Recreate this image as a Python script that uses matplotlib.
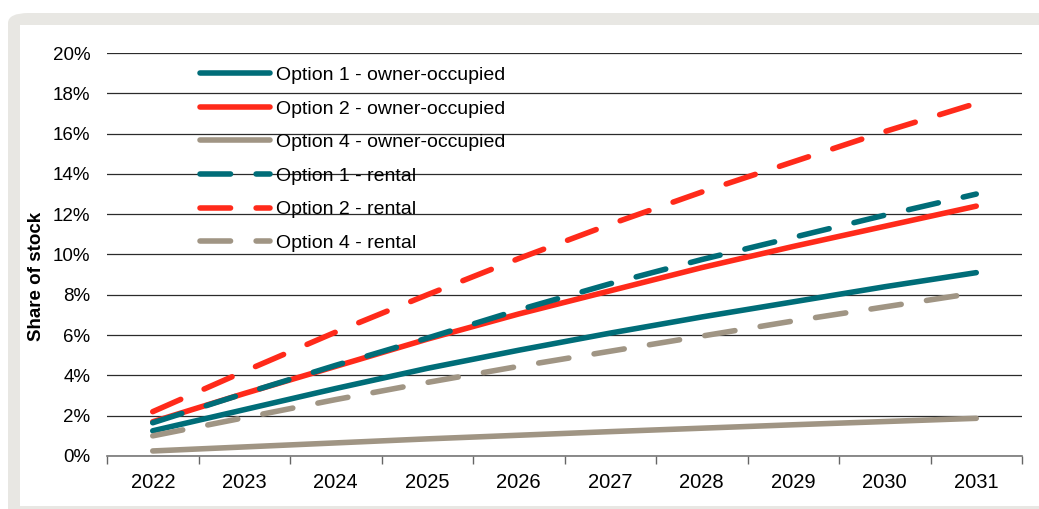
import matplotlib
matplotlib.use("Agg")
import matplotlib.pyplot as plt
from matplotlib.patches import FancyBboxPatch, Rectangle
import numpy as np

plt.rcParams['font.family'] = ['Liberation Sans', 'DejaVu Sans']

years = ['2022', '2023', '2024', '2025', '2026', '2027', '2028', '2029', '2030', '2031']
opt1_owner = [1.25, 2.3, 3.35, 4.35, 5.25, 6.1, 6.9, 7.65, 8.4, 9.1]
opt2_owner = [1.7, 3.1, 4.45, 5.8, 7.05, 8.2, 9.35, 10.4, 11.4, 12.4]
opt4_owner = [0.25, 0.45, 0.65, 0.85, 1.03, 1.21, 1.38, 1.55, 1.71, 1.87]
opt1_rental = [1.65, 3.1, 4.5, 5.85, 7.25, 8.55, 9.75, 10.85, 11.95, 13.0]
opt2_rental = [2.2, 4.2, 6.15, 8.0, 9.8, 11.5, 13.1, 14.6, 16.1, 17.5]
opt4_rental = [1.0, 1.9, 2.8, 3.65, 4.45, 5.2, 5.95, 6.7, 7.4, 8.1]
yticks = [0, 2, 4, 6, 8, 10, 12, 14, 16, 18, 20]

TEAL = '#006d78'
RED = '#ff2a1a'
GRAY = '#a09584'
BG = '#e8e7e3'

W, H = 1039, 509
fig = plt.figure(figsize=(W / 100, H / 100), dpi=100)
fig.patch.set_facecolor('white')

# frame
fig.patches.append(FancyBboxPatch((8 / W, -0.05), 1.2, (H - 13) / H + 0.05,
                                  boxstyle='round,pad=0,rounding_size=0.02',
                                  transform=fig.transFigure, facecolor=BG,
                                  edgecolor='none', zorder=-2))
fig.patches.append(Rectangle((20 / W, 3 / H), 1.0, (H - 25 - 3) / H,
                             transform=fig.transFigure, facecolor='white',
                             edgecolor='none', zorder=-1))

ax = fig.add_axes([107 / W, 1 - 456 / H, 915 / W, 403 / H])
ax.set_facecolor('none')
x = np.arange(len(years))

series = [
    (opt1_owner, TEAL, '-', 'Option 1 - owner-occupied'),
    (opt2_owner, RED, '-', 'Option 2 - owner-occupied'),
    (opt4_owner, GRAY, '-', 'Option 4 - owner-occupied'),
    (opt1_rental, TEAL, '--', 'Option 1 - rental'),
    (opt2_rental, RED, '--', 'Option 2 - rental'),
    (opt4_rental, GRAY, '--', 'Option 4 - rental'),
]
for vals, col, ls, lab in series:
    kw = dict(color=col, lw=4.0, label=lab, solid_capstyle='round',
              dash_capstyle='round', zorder=3)
    if ls == '--':
        kw['dashes'] = (5.5, 4.6)
    ax.plot(x, vals, **kw)

ax.set_xlim(-0.5, len(years) - 0.5)
ax.set_ylim(0, 20)
ax.set_yticks(yticks)
ax.set_yticklabels([f'{v}%' for v in yticks], fontsize=13.5)
ax.set_xticks(x)
ax.set_xticklabels(years, fontsize=14.5)
ax.set_xticks(np.arange(-0.5, len(years), 1), minor=True)
ax.tick_params(axis='x', which='major', length=0, pad=12.5)
ax.tick_params(axis='x', which='minor', length=6, color='#666666', width=1, direction='out')
ax.tick_params(axis='y', length=0, pad=12)
for s in ['left', 'right', 'top']:
    ax.spines[s].set_visible(False)
ax.spines['bottom'].set_color('#777777')
ax.spines['bottom'].set_linewidth(1.2)
ax.yaxis.grid(True, color='#2b2b2b', lw=0.9)
ax.set_axisbelow(True)

ax.set_ylabel('Share of stock', fontsize=13.5, fontweight='bold')
ax.yaxis.set_label_coords((45 - 107) / 915, (456 - 276) / 403)

leg = ax.legend(loc='upper left', bbox_to_anchor=((200 - 107) / 915, (456 - 66.5) / 403),
                frameon=False, fontsize=14, handlelength=3.6, handletextpad=0.3,
                labelspacing=0.82, borderpad=0, borderaxespad=0)

fig.savefig('out.png', dpi=100, facecolor=fig.get_facecolor())
